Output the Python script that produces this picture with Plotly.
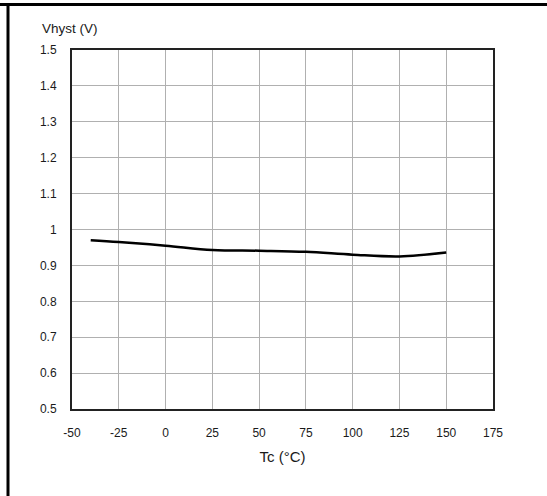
import plotly.graph_objects as go

temps = [-40, -25, 0, 25, 50, 75, 100, 125, 150]
vhyst = [0.970, 0.965, 0.955, 0.943, 0.941, 0.938, 0.930, 0.925, 0.936]
x_ticks = [-50, -25, 0, 25, 50, 75, 100, 125, 150, 175]
y_ticks = [0.5, 0.6, 0.7, 0.8, 0.9, 1.0, 1.1, 1.2, 1.3, 1.4, 1.5]
y_labels = ["0.5", "0.6", "0.7", "0.8", "0.9", "1", "1.1", "1.2", "1.3", "1.4", "1.5"]

W, H = 547, 496
L, R, T, B = 72, 54, 50, 87
pw, ph = W - L - R, H - T - B

fig = go.Figure()
fig.add_trace(go.Scatter(x=temps, y=vhyst, mode="lines",
                         line=dict(color="black", width=2.5, shape="spline"),
                         showlegend=False))

font = dict(family="Liberation Sans, Arial, sans-serif", color="#1a1a1a")

fig.update_layout(
    width=W, height=H,
    margin=dict(l=L, r=R, t=T, b=B),
    paper_bgcolor="white", plot_bgcolor="white",
    font=font,
    xaxis=dict(range=[-50, 175], tickvals=x_ticks, ticktext=[str(v) for v in x_ticks],
               showgrid=True, gridcolor="#b0b0b0", gridwidth=1, zeroline=False,
               showline=True, linecolor="#222", linewidth=2, mirror=True,
               ticks="", ticklabelstandoff=12, tickfont=dict(size=12, **font),
               title=dict(text="Tc (°C)", font=dict(size=15, **font), standoff=12)),
    yaxis=dict(range=[0.5, 1.5], tickvals=y_ticks, ticktext=y_labels,
               showgrid=True, gridcolor="#b0b0b0", gridwidth=1, zeroline=False,
               showline=True, linecolor="#222", linewidth=2, mirror=True,
               ticks="", ticklabelstandoff=11, tickfont=dict(size=12, **font)),
    annotations=[dict(text="Vhyst (V)", xref="paper", yref="paper",
                      x=(40 - L) / pw, y=1 + (T - 28) / ph, xanchor="left", yanchor="middle",
                      showarrow=False, font=dict(size=13.5, **font))],
    shapes=[
        dict(type="line", xref="paper", yref="paper",
             x0=(0 - L) / pw, x1=(W - L) / pw, y0=1 + (T - 4.5) / ph, y1=1 + (T - 4.5) / ph,
             line=dict(color="black", width=3)),
        dict(type="line", xref="paper", yref="paper",
             x0=(8 - L) / pw, x1=(8 - L) / pw, y0=1 + (T - 3) / ph, y1=-(B) / ph,
             line=dict(color="black", width=3)),
    ],
)

fig.write_html("out.html")
